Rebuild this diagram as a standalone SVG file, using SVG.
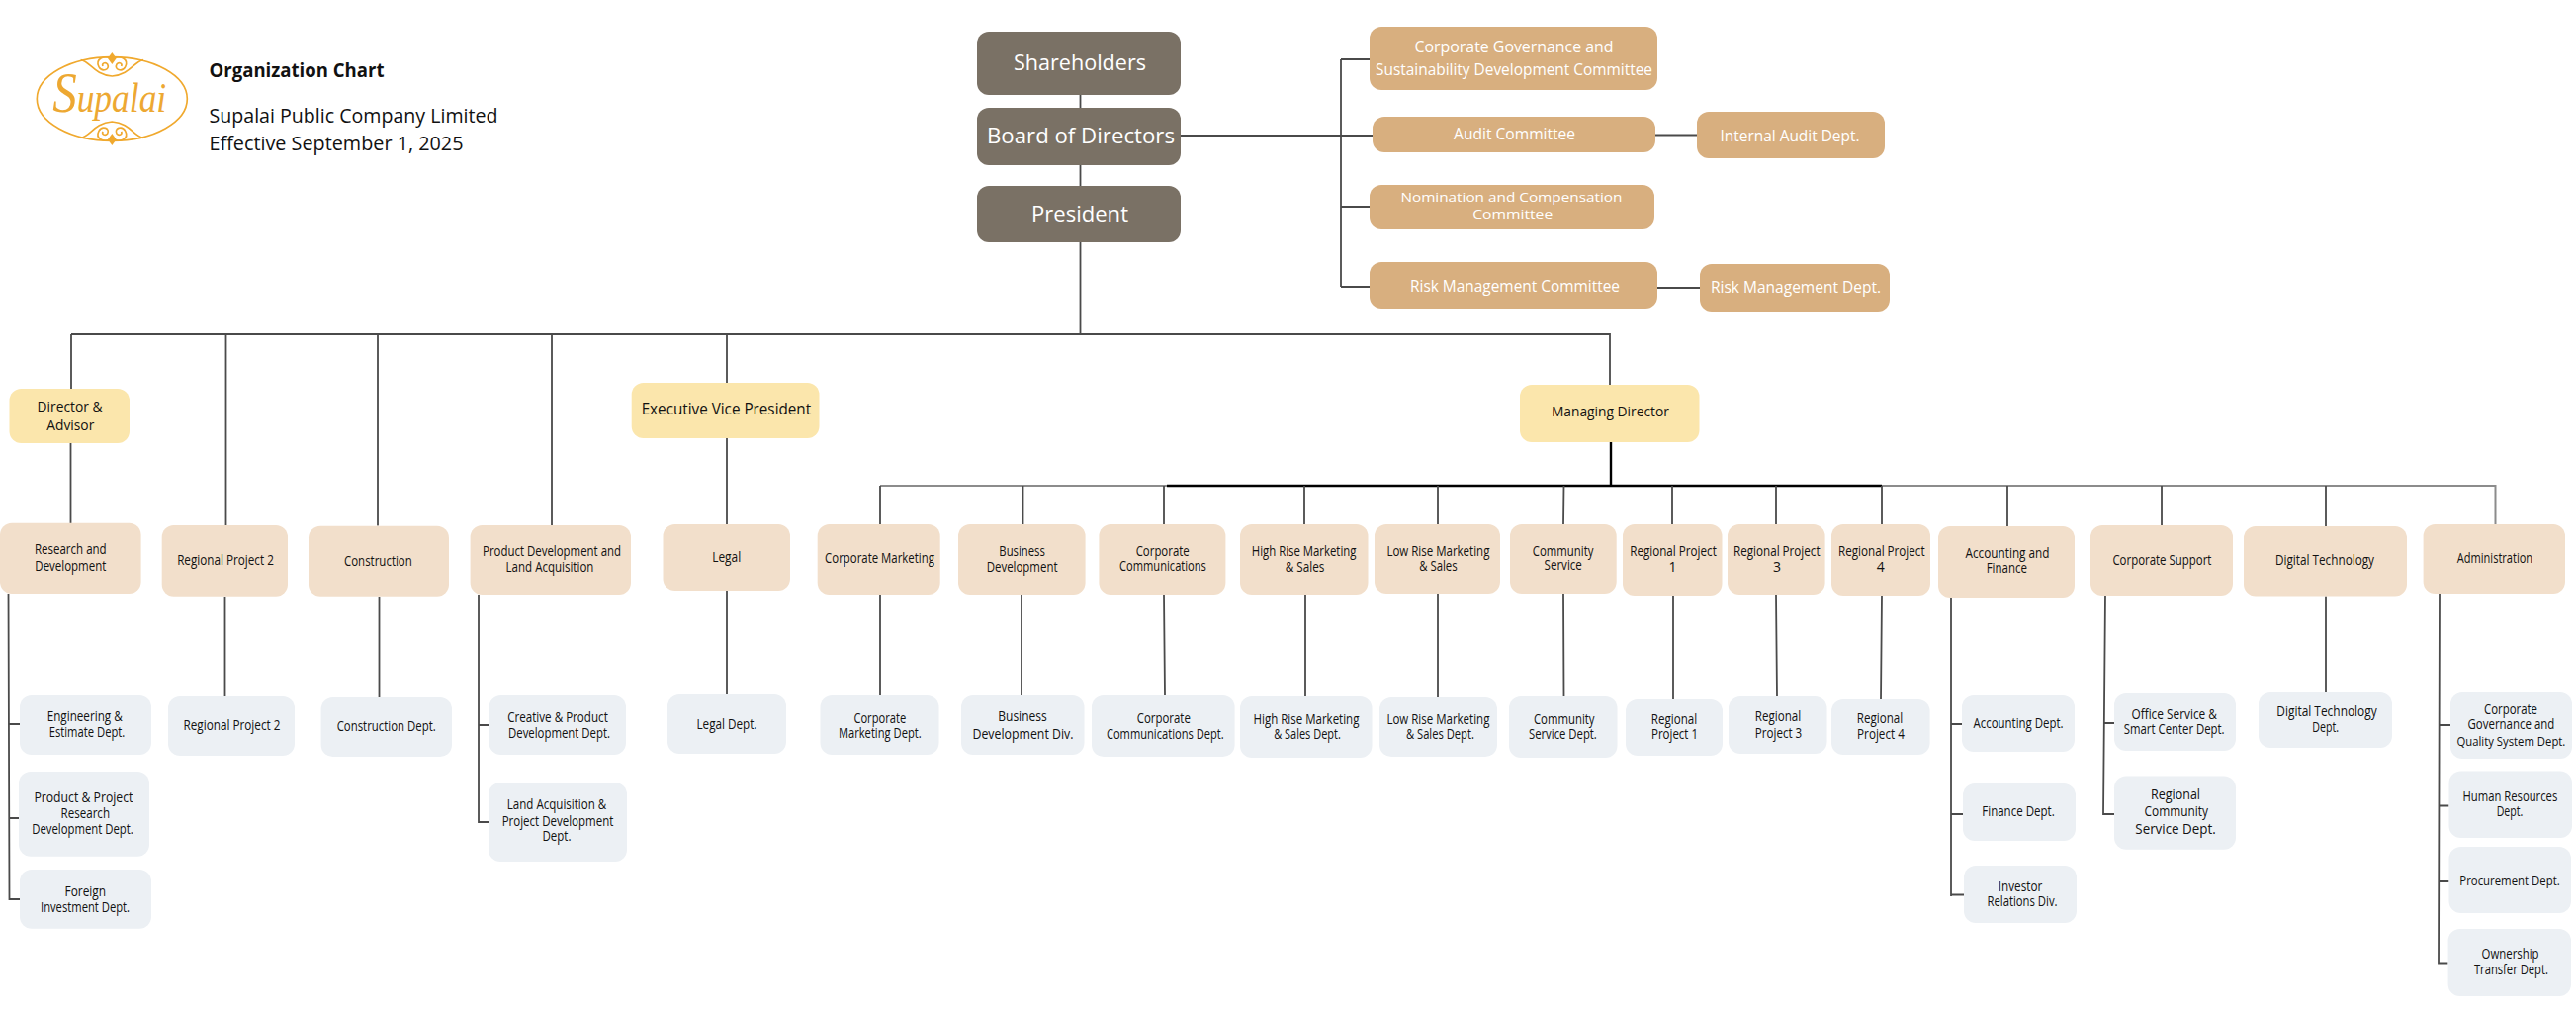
<svg xmlns="http://www.w3.org/2000/svg" width="2605" height="1024" viewBox="0 0 2605 1024">
<style>
text{font-family:"Open Sans","Noto Sans","Liberation Sans",sans-serif;text-anchor:middle;fill:#111;font-size:14px}
rect{rx:12px;ry:12px}
.d rect{fill:#7a7165}.d text{fill:#fff;font-size:21px}
.c rect{fill:#d8af7f}.c text{fill:#fff;font-size:15.500px}
.c text.tight{font-size:13.500px}
.y rect{fill:#fbe6ac}.y text{font-size:15.500px}
.p rect{fill:#f2dfcb}
.g rect{fill:#ecf0f4}
.g text.sm{font-size:12.500px}
.hd text{text-anchor:start;font-size:20px;fill:#111}
#connectors path{fill:none;stroke:#4a4a4a;stroke-width:1.8}
#connectors .k{stroke:#000;stroke-width:2.4}
#connectors .l{stroke:#8c8c8c;stroke-width:2}
#logo path,#logo ellipse{fill:none;stroke:#f0a92e;stroke-width:5}
#logo .f{fill:#f0a92e;stroke:none}
</style>
<g id="connectors">
<path d="M1092.5 96V109M1092.5 167V188M1092.5 245V338"/>
<path d="M72 338H1628V389"/>
<path d="M72 338V393M71.5 448V529M228.5 338V531M382 338V531.5M558 338V531M735 338V387M735 443V530"/>
<path d="M1194 137H1388M1356 60V290M1356 60H1385M1356 209H1385M1356 290H1385M1674 136.500H1716M1676 291H1719"/>
<path d="M227.500 603V704M383.500 603V705M735 597V702"/>
<path d="M8.500 600L9.500 909H20M9 732H20M9 827H19"/>
<path d="M484 601V831H494M484 733H494.500"/>
<path class="l" d="M890 491H1180M1903 491H2523.500V530"/>
<path class="k" d="M1180 491H1903M1629 447V491"/>
<path d="M890 491V530M1034.500 491V530M1177 491V530M1319 491V530M1454 491V530M1581.500 491L1581 530M1691 491V530M1796 491V530M1903 491V530M2030 491V532M2186 491V531M2352 491V532"/>
<path d="M890 601V703M1033 601V703M1177 601L1178 703M1320 601V704M1454 600V705M1581 600L1581.500 704M1692 602V707M1796 601L1797 704M1903 602L1902 707M2352 602.500V700"/>
<path d="M1973 604V906M1973 732H1984M1973 823H1985M1973 904.500H1986"/>
<path d="M2129 602L2127 823H2138M2128 731H2138"/>
<path d="M2467 600L2466 973.500H2475.500M2467 733H2478M2466 814.500H2476.500M2466 891H2476.500"/>
</g>
<g id="logo">
<g transform="translate(30 45) scale(.3333)">
<ellipse cx="250" cy="165" rx="228" ry="127"/>
<g id="logo-top">
<path d="M155 47C185 52 195 92 250 96C305 92 315 52 345 47"/>
<path d="M250 44C225 30 198 45 210 68C220 86 245 76 236 60C229 51 218 58 222 66"/>
<path d="M250 44C275 30 302 45 290 68C280 86 255 76 264 60C271 51 282 58 278 66"/>
<path class="f" d="M250 24L263 42L250 60L237 42Z"/>
</g>
<g transform="translate(0 330) scale(1 -1)">
<path d="M155 47C185 52 195 92 250 96C305 92 315 52 345 47"/>
<path d="M250 44C225 30 198 45 210 68C220 86 245 76 236 60C229 51 218 58 222 66"/>
<path d="M250 44C275 30 302 45 290 68C280 86 255 76 264 60C271 51 282 58 278 66"/>
<path class="f" d="M250 24L263 42L250 60L237 42Z"/>
</g>
</g>
<text x="110.700" y="113" textLength="115" lengthAdjust="spacingAndGlyphs" style="font-family:'Liberation Serif',serif;font-style:italic;font-size:42px;fill:#eda832"><tspan style="font-size:58px">S</tspan>upalai</text>
</g>
<g id="header" class="hd">
<text x="211.500" y="78" textLength="177" lengthAdjust="spacingAndGlyphs" font-weight="700">Organization Chart</text>
<text x="211.500" y="124" textLength="292" lengthAdjust="spacingAndGlyphs">Supalai Public Company Limited</text>
<text x="211.500" y="152" textLength="257" lengthAdjust="spacingAndGlyphs">Effective September 1, 2025</text>
</g>
<g id="n-shareholders" class="d"><rect x="988" y="32" width="206" height="64"/><text x="1092" y="71" textLength="134" lengthAdjust="spacingAndGlyphs">Shareholders</text></g>
<g id="n-board" class="d"><rect x="988" y="109" width="206" height="58"/><text x="1093" y="145" textLength="190" lengthAdjust="spacingAndGlyphs">Board of Directors</text></g>
<g id="n-president" class="d"><rect x="988" y="188" width="206" height="57"/><text x="1092" y="224" textLength="98" lengthAdjust="spacingAndGlyphs">President</text></g>
<g id="n-cg-committee" class="c"><rect x="1385" y="27" width="291" height="64"/><text x="1531" y="53.300" textLength="201" lengthAdjust="spacingAndGlyphs">Corporate Governance and</text><text x="1531" y="76" textLength="280" lengthAdjust="spacingAndGlyphs">Sustainability Development Committee</text></g>
<g id="n-audit-committee" class="c"><rect x="1388" y="118" width="286" height="36"/><text x="1531.600" y="141" textLength="123" lengthAdjust="spacingAndGlyphs">Audit Committee</text></g>
<g id="n-internal-audit" class="c"><rect x="1716" y="113" width="190" height="47"/><text x="1810" y="142.700" textLength="141" lengthAdjust="spacingAndGlyphs">Internal Audit Dept.</text></g>
<g id="n-nomination" class="c"><rect x="1385" y="187" width="288" height="44"/><text class="tight" x="1528.400" y="204" textLength="224" lengthAdjust="spacingAndGlyphs">Nomination and Compensation</text><text class="tight" x="1529.700" y="221" textLength="81" lengthAdjust="spacingAndGlyphs">Committee</text></g>
<g id="n-risk-committee" class="c"><rect x="1385" y="265" width="291" height="47"/><text x="1532" y="294.700" textLength="212" lengthAdjust="spacingAndGlyphs">Risk Management Committee</text></g>
<g id="n-risk-dept" class="c"><rect x="1719" y="267" width="192" height="48"/><text x="1816" y="296" textLength="172" lengthAdjust="spacingAndGlyphs">Risk Management Dept.</text></g>
<g id="n-director" class="y"><rect x="9.500" y="393" width="121.500" height="55"/><text x="70.500" y="416" textLength="66" lengthAdjust="spacingAndGlyphs" style="font-size:14.500px">Director &amp;</text><text x="71.300" y="435" textLength="48" lengthAdjust="spacingAndGlyphs" style="font-size:14.500px">Advisor</text></g>
<g id="n-evp" class="y"><rect x="638.700" y="387" width="189.800" height="56"/><text x="734.400" y="419" textLength="171.500" lengthAdjust="spacingAndGlyphs">Executive Vice President</text></g>
<g id="n-md" class="y"><rect x="1537" y="389" width="181.500" height="58"/><text x="1628.400" y="421.300" textLength="119" lengthAdjust="spacingAndGlyphs" style="font-size:14.500px">Managing Director</text></g>
<g id="n-rd" class="p"><rect x="0" y="528.700" width="142.600" height="71.300"/><text x="71.300" y="560.300" textLength="72.700" lengthAdjust="spacingAndGlyphs">Research and</text><text x="71.300" y="577" textLength="72" lengthAdjust="spacingAndGlyphs">Development</text></g>
<g id="n-rp2" class="p"><rect x="163.700" y="531" width="127.300" height="71.700"/><text x="228" y="570.700" textLength="97.700" lengthAdjust="spacingAndGlyphs">Regional Project 2</text></g>
<g id="n-construction" class="p"><rect x="312" y="531.700" width="142" height="71"/><text x="382.400" y="571.700" textLength="68.800" lengthAdjust="spacingAndGlyphs">Construction</text></g>
<g id="n-pdla" class="p"><rect x="475.600" y="531" width="162.400" height="70"/><text x="558" y="561.700" textLength="140" lengthAdjust="spacingAndGlyphs">Product Development and</text><text x="556" y="578.300" textLength="88.800" lengthAdjust="spacingAndGlyphs">Land Acquisition</text></g>
<g id="n-legal" class="p"><rect x="670.500" y="530" width="128.500" height="67"/><text x="734.700" y="568" textLength="29" lengthAdjust="spacingAndGlyphs">Legal</text></g>
<g id="n-corp-mkt" class="p"><rect x="826.700" y="530" width="124" height="71"/><text x="889.500" y="569.300" textLength="110.800" lengthAdjust="spacingAndGlyphs">Corporate Marketing</text></g>
<g id="n-bus-dev" class="p"><rect x="969" y="530" width="128.600" height="71"/><text x="1033.600" y="561.700" textLength="46.500" lengthAdjust="spacingAndGlyphs">Business</text><text x="1033.600" y="578" textLength="71.800" lengthAdjust="spacingAndGlyphs">Development</text></g>
<g id="n-corp-comm" class="p"><rect x="1111.400" y="530" width="128" height="71"/><text x="1175.700" y="561.700" textLength="54" lengthAdjust="spacingAndGlyphs">Corporate</text><text x="1176" y="576.700" textLength="87.800" lengthAdjust="spacingAndGlyphs">Communications</text></g>
<g id="n-high-rise" class="p"><rect x="1254" y="530" width="129.500" height="71"/><text x="1318.600" y="561.700" textLength="105.600" lengthAdjust="spacingAndGlyphs">High Rise Marketing</text><text x="1319.500" y="578" textLength="39.600" lengthAdjust="spacingAndGlyphs">&amp; Sales</text></g>
<g id="n-low-rise" class="p"><rect x="1390" y="530" width="127" height="70"/><text x="1454.400" y="561.700" textLength="104" lengthAdjust="spacingAndGlyphs">Low Rise Marketing</text><text x="1454.400" y="576.700" textLength="38.500" lengthAdjust="spacingAndGlyphs">&amp; Sales</text></g>
<g id="n-community" class="p"><rect x="1527" y="530" width="107.700" height="70"/><text x="1580.600" y="561.700" textLength="61.600" lengthAdjust="spacingAndGlyphs">Community</text><text x="1580.700" y="576" textLength="38.300" lengthAdjust="spacingAndGlyphs">Service</text></g>
<g id="n-rp1" class="p"><rect x="1641" y="530" width="100.500" height="72"/><text x="1692" y="561.700" textLength="87.600" lengthAdjust="spacingAndGlyphs">Regional Project</text><text x="1691.400" y="578">1</text></g>
<g id="n-rp3" class="p"><rect x="1747" y="530" width="98.600" height="71"/><text x="1796.800" y="561.700" textLength="87.600" lengthAdjust="spacingAndGlyphs">Regional Project</text><text x="1797" y="578">3</text></g>
<g id="n-rp4" class="p"><rect x="1852" y="530" width="100" height="72"/><text x="1902.800" y="561.700" textLength="87.600" lengthAdjust="spacingAndGlyphs">Regional Project</text><text x="1901.800" y="578">4</text></g>
<g id="n-af" class="p"><rect x="1960" y="532" width="138" height="72"/><text x="2030" y="564" textLength="85" lengthAdjust="spacingAndGlyphs">Accounting and</text><text x="2029.300" y="579.300" textLength="41.300" lengthAdjust="spacingAndGlyphs">Finance</text></g>
<g id="n-corp-support" class="p"><rect x="2114" y="531" width="144" height="71"/><text x="2186.400" y="570.700" textLength="100" lengthAdjust="spacingAndGlyphs">Corporate Support</text></g>
<g id="n-digital" class="p"><rect x="2269" y="532" width="165" height="70.500"/><text x="2351" y="570.700" textLength="100" lengthAdjust="spacingAndGlyphs">Digital Technology</text></g>
<g id="n-admin" class="p"><rect x="2450.600" y="530" width="143.400" height="70"/><text x="2523" y="569.300" textLength="76.300" lengthAdjust="spacingAndGlyphs">Administration</text></g>
<g id="d-engineering" class="g"><rect x="20" y="703" width="133" height="60"/><text x="85.700" y="729" textLength="76" lengthAdjust="spacingAndGlyphs">Engineering &amp;</text><text x="88" y="745.300" textLength="76.600" lengthAdjust="spacingAndGlyphs">Estimate Dept.</text></g>
<g id="d-product" class="g"><rect x="19" y="780" width="132" height="85.700"/><text x="84.400" y="810.700" textLength="100" lengthAdjust="spacingAndGlyphs">Product &amp; Project</text><text x="86.300" y="827.300" textLength="49.400" lengthAdjust="spacingAndGlyphs">Research</text><text x="83.500" y="843" textLength="102.700" lengthAdjust="spacingAndGlyphs">Development Dept.</text></g>
<g id="d-foreign" class="g"><rect x="20" y="879" width="133" height="59.700"/><text x="86.300" y="905.700" textLength="41.600" lengthAdjust="spacingAndGlyphs">Foreign</text><text x="86" y="922" textLength="90" lengthAdjust="spacingAndGlyphs">Investment Dept.</text></g>
<g id="d-rp2" class="g"><rect x="170" y="704" width="128" height="60"/><text x="234.500" y="738" textLength="98" lengthAdjust="spacingAndGlyphs">Regional Project 2</text></g>
<g id="d-construction" class="g"><rect x="324.600" y="705" width="132.400" height="60"/><text x="390.700" y="739.300" textLength="100" lengthAdjust="spacingAndGlyphs">Construction Dept.</text></g>
<g id="d-creative" class="g"><rect x="494.500" y="703" width="138.500" height="60"/><text x="564" y="730.300" textLength="101.600" lengthAdjust="spacingAndGlyphs">Creative &amp; Product</text><text x="565.500" y="746" textLength="103" lengthAdjust="spacingAndGlyphs">Development Dept.</text></g>
<g id="d-land" class="g"><rect x="494" y="791" width="140" height="80"/><text x="563" y="818.300" textLength="100.400" lengthAdjust="spacingAndGlyphs">Land Acquisition &amp;</text><text x="564" y="835" textLength="112.700" lengthAdjust="spacingAndGlyphs">Project Development</text><text x="563" y="850.300" textLength="29" lengthAdjust="spacingAndGlyphs">Dept.</text></g>
<g id="d-legal" class="g"><rect x="675" y="702" width="120" height="60"/><text x="735" y="736.700" textLength="61" lengthAdjust="spacingAndGlyphs">Legal Dept.</text></g>
<g id="d-corp-mkt" class="g"><rect x="829.500" y="703" width="120" height="60"/><text x="889.800" y="730.700" textLength="52.800" lengthAdjust="spacingAndGlyphs">Corporate</text><text x="889.800" y="745.700" textLength="83.800" lengthAdjust="spacingAndGlyphs">Marketing Dept.</text></g>
<g id="d-bus-dev" class="g"><rect x="972" y="703" width="124.500" height="60"/><text x="1034" y="729" textLength="49.400" lengthAdjust="spacingAndGlyphs">Business</text><text x="1034.500" y="747" textLength="102" lengthAdjust="spacingAndGlyphs">Development Div.</text></g>
<g id="d-corp-comm" class="g"><rect x="1104" y="703" width="144.600" height="62"/><text x="1176.800" y="730.700" textLength="54" lengthAdjust="spacingAndGlyphs">Corporate</text><text x="1178.300" y="747" textLength="118.800" lengthAdjust="spacingAndGlyphs">Communications Dept.</text></g>
<g id="d-high-rise" class="g"><rect x="1254" y="704" width="133.500" height="62"/><text x="1321" y="731.700" textLength="106.800" lengthAdjust="spacingAndGlyphs">High Rise Marketing</text><text x="1322" y="747" textLength="67.700" lengthAdjust="spacingAndGlyphs">&amp; Sales Dept.</text></g>
<g id="d-low-rise" class="g"><rect x="1395" y="705" width="119" height="60"/><text x="1454.400" y="731.700" textLength="104" lengthAdjust="spacingAndGlyphs">Low Rise Marketing</text><text x="1456.400" y="747" textLength="68.900" lengthAdjust="spacingAndGlyphs">&amp; Sales Dept.</text></g>
<g id="d-community" class="g"><rect x="1526" y="704" width="109.500" height="62"/><text x="1581.700" y="731.700" textLength="61.600" lengthAdjust="spacingAndGlyphs">Community</text><text x="1580.400" y="747" textLength="68.900" lengthAdjust="spacingAndGlyphs">Service Dept.</text></g>
<g id="d-rp1" class="g"><rect x="1644" y="707" width="98" height="57"/><text x="1693" y="731.700" textLength="46.300" lengthAdjust="spacingAndGlyphs">Regional</text><text x="1693.500" y="747" textLength="47" lengthAdjust="spacingAndGlyphs">Project 1</text></g>
<g id="d-rp3" class="g"><rect x="1748" y="704" width="99.500" height="58"/><text x="1798" y="729" textLength="46.300" lengthAdjust="spacingAndGlyphs">Regional</text><text x="1798.500" y="745.700" textLength="47.500" lengthAdjust="spacingAndGlyphs">Project 3</text></g>
<g id="d-rp4" class="g"><rect x="1852" y="707" width="99.600" height="56"/><text x="1901" y="730.700" textLength="46.300" lengthAdjust="spacingAndGlyphs">Regional</text><text x="1902" y="747" textLength="47.800" lengthAdjust="spacingAndGlyphs">Project 4</text></g>
<g id="d-accounting" class="g"><rect x="1984" y="703" width="114" height="57"/><text x="2041" y="735.700" textLength="91" lengthAdjust="spacingAndGlyphs">Accounting Dept.</text></g>
<g id="d-finance" class="g"><rect x="1985" y="792" width="114" height="58"/><text x="2041" y="825" textLength="73.400" lengthAdjust="spacingAndGlyphs">Finance Dept.</text></g>
<g id="d-investor" class="g"><rect x="1986" y="875" width="114" height="58"/><text x="2043" y="900.700" textLength="44.500" lengthAdjust="spacingAndGlyphs">Investor</text><text x="2045" y="916" textLength="71" lengthAdjust="spacingAndGlyphs">Relations Div.</text></g>
<g id="d-office" class="g"><rect x="2138" y="701" width="123" height="58"/><text x="2198.700" y="727" textLength="86.500" lengthAdjust="spacingAndGlyphs">Office Service &amp;</text><text x="2198.700" y="742" textLength="101.800" lengthAdjust="spacingAndGlyphs">Smart Center Dept.</text></g>
<g id="d-reg-community" class="g"><rect x="2138" y="784.500" width="123" height="74.200"/><text x="2200" y="807.500" textLength="50" lengthAdjust="spacingAndGlyphs">Regional</text><text x="2200.800" y="825" textLength="64.500" lengthAdjust="spacingAndGlyphs">Community</text><text x="2200" y="843" textLength="81.400" lengthAdjust="spacingAndGlyphs">Service Dept.</text></g>
<g id="d-digital" class="g"><rect x="2284" y="700" width="135" height="56"/><text x="2353" y="724.400" textLength="101.400" lengthAdjust="spacingAndGlyphs">Digital Technology</text><text x="2351.600" y="739.600" textLength="26.700" lengthAdjust="spacingAndGlyphs">Dept.</text></g>
<g id="d-governance" class="g"><rect x="2478" y="700" width="123" height="67"/><text x="2539" y="721.600" textLength="53.900" lengthAdjust="spacingAndGlyphs">Corporate</text><text x="2539.400" y="736.800" textLength="87.800" lengthAdjust="spacingAndGlyphs">Governance and</text><text class="sm" x="2539.400" y="753.700" textLength="109.800" lengthAdjust="spacingAndGlyphs">Quality System Dept.</text></g>
<g id="d-hr" class="g"><rect x="2476.500" y="779.500" width="124.500" height="67.500"/><text x="2538.400" y="809.600" textLength="95.800" lengthAdjust="spacingAndGlyphs">Human Resources</text><text x="2538" y="825" textLength="26.700" lengthAdjust="spacingAndGlyphs">Dept.</text></g>
<g id="d-procurement" class="g"><rect x="2476.500" y="856" width="123.500" height="67"/><text class="sm" x="2538" y="895" textLength="101.400" lengthAdjust="spacingAndGlyphs">Procurement Dept.</text></g>
<g id="d-ownership" class="g"><rect x="2475.600" y="939" width="124.400" height="68"/><text x="2538.600" y="969.300" textLength="58" lengthAdjust="spacingAndGlyphs">Ownership</text><text x="2539.400" y="984.500" textLength="75" lengthAdjust="spacingAndGlyphs">Transfer Dept.</text></g>
</svg>
